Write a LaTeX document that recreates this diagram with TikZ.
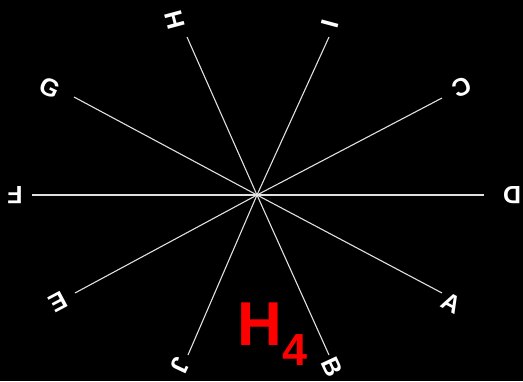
\documentclass[tikz,border=0pt]{standalone}
\usepackage{fontspec}
\setmainfont{Liberation Sans}
\begin{document}
\begin{tikzpicture}[x=1pt,y=-1pt,
  ray/.style={draw=white!88!black, line width=1.1pt},
  lbl/.style={text=white, font=\bfseries\fontsize{25}{25}\selectfont, inner sep=0pt, anchor=center},
  title/.style={text=red, inner sep=0pt, anchor=base west}]
\fill[black] (0,0) rectangle (523,381);
\useasboundingbox (0,0) rectangle (523,381);
\coordinate (O) at (257,195);
\coordinate (eA) at (442,293);
\coordinate (eB) at (329,355);
\coordinate (eC) at (442,98);
\coordinate (eD) at (484,195);
\coordinate (eE) at (75,293);
\coordinate (eF) at (32,195);
\coordinate (eG) at (74,97);
\coordinate (eH) at (187,37);
\coordinate (eI) at (329,37);
\coordinate (eJ) at (188,355);
\foreach \e in {A,B,C,D,E,F,G,H,I,J} \draw[ray] (O) -- (e\e);
\node[lbl, rotate=-28] (A) at (452,303) {A};
\node[lbl, rotate=-65] (B) at (332,367) {B};
\node[lbl, rotate=205] (C) at (462,87) {C};
\node[lbl, rotate=180] (D) at (512,195) {D};
\node[lbl, rotate=208] (E) at (58,302) {E};
\node[lbl, rotate=180] (F) at (15,195) {F};
\node[lbl, rotate=-25] (G) at (50,88) {G};
\node[lbl, rotate=105] (H) at (175,20) {H};
\node[lbl, rotate=75] (I) at (330,24) {I};
\node[lbl, rotate=-115] (J) at (180,365) {J};
\node[title, font=\bfseries\fontsize{62}{62}\selectfont] (Hf) at (237,345) {H};
\node[title, font=\bfseries\fontsize{45}{45}\selectfont] (four) at (282,365) {4};
\end{tikzpicture}
\end{document}
